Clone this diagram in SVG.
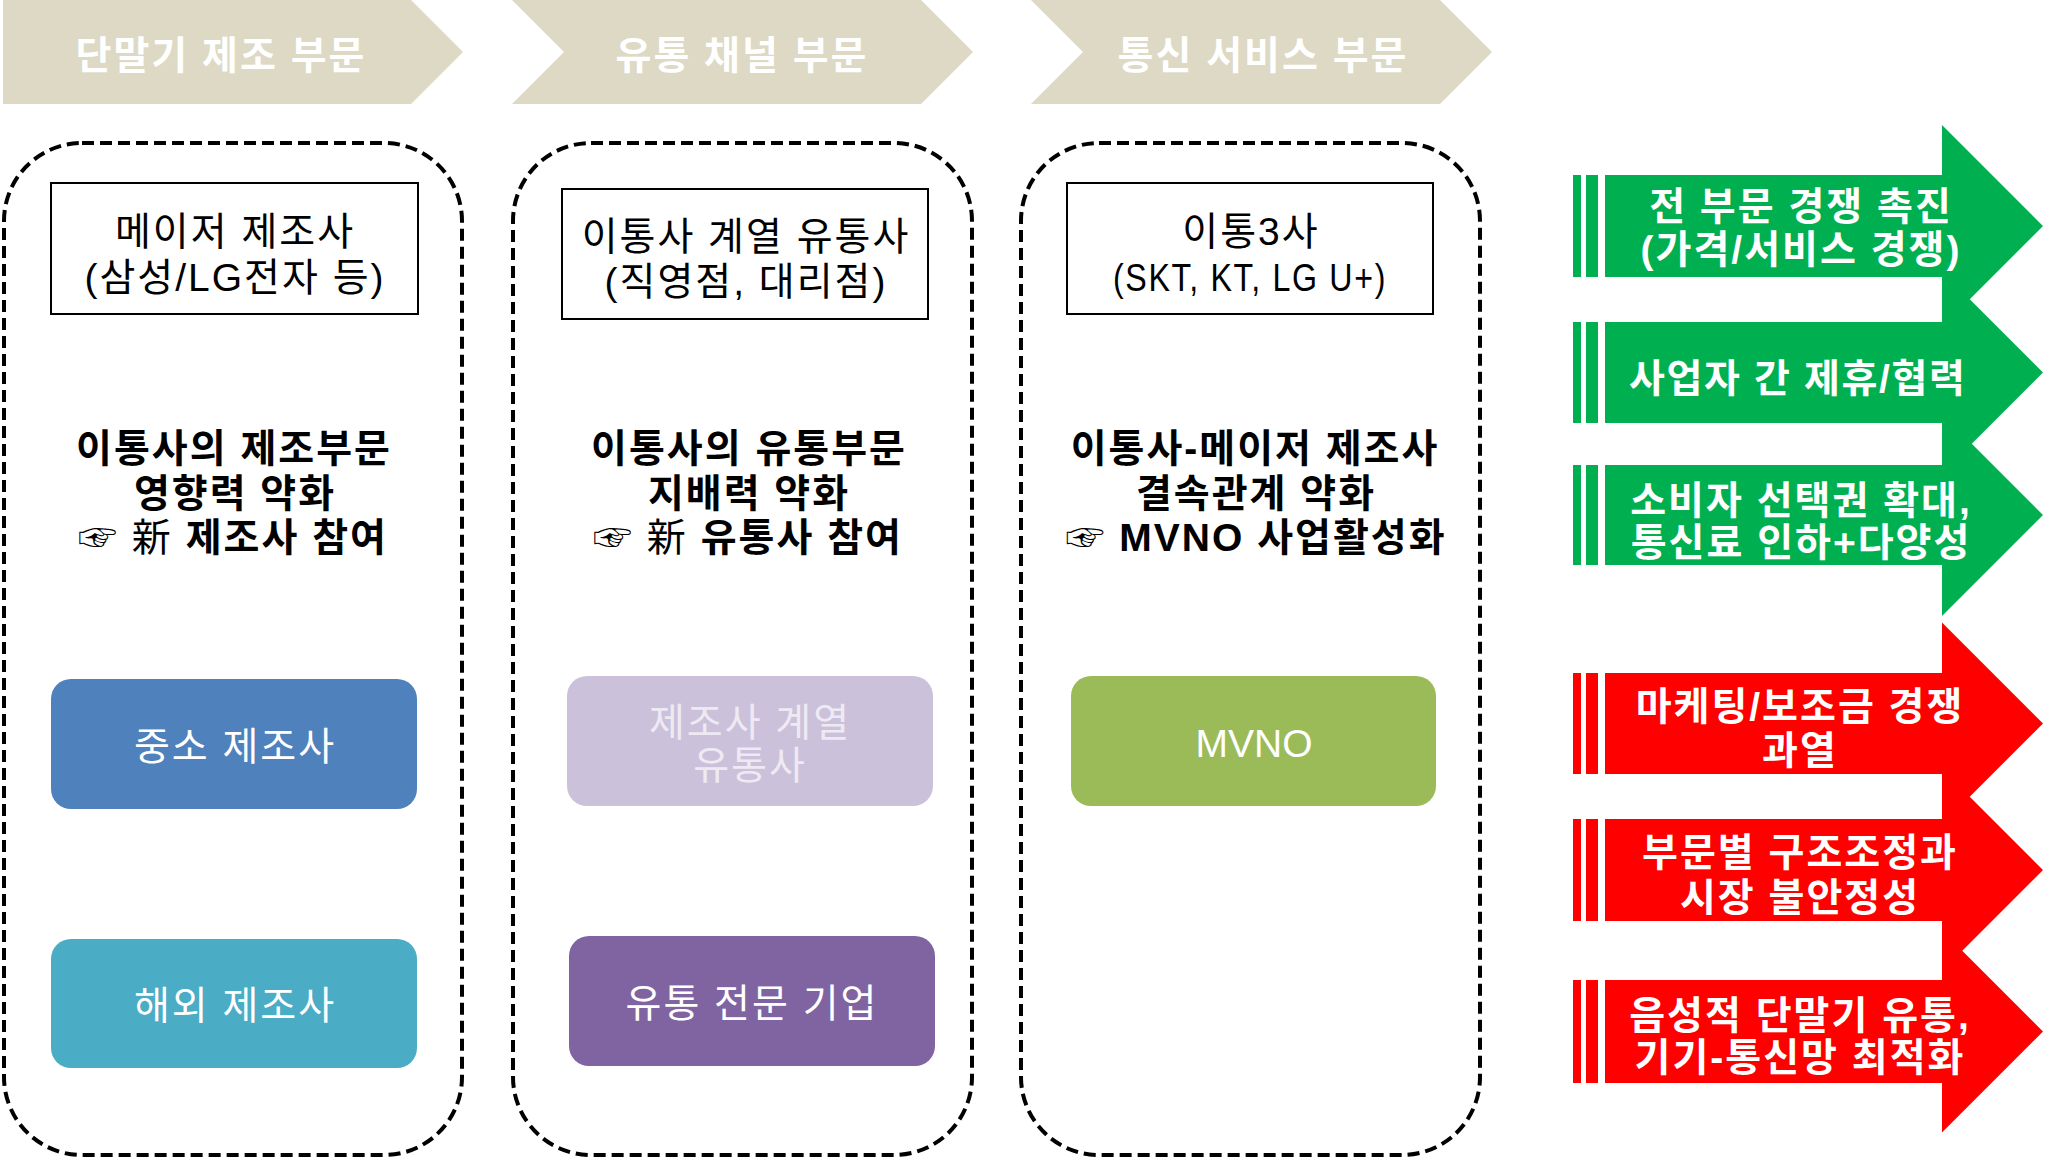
<svg xmlns="http://www.w3.org/2000/svg" width="2045" height="1159" viewBox="0 0 2045 1159">
<style>
text{font-family:'Liberation Sans','Noto Sans CJK KR',sans-serif;text-anchor:middle;letter-spacing:2px}
.hd{fill:#DDD9C4}
.hdt{fill:#FFFFFF;font-size:39px;font-weight:bold}
.col{fill:none;stroke:#000;stroke-width:4;stroke-dasharray:12 6}
.top{fill:#fff;stroke:#000;stroke-width:2}
.tt{fill:#000;font-size:39px}
.bt{fill:#000;font-size:39px;font-weight:bold}
.nr{font-weight:normal}
.cb{font-size:39px;fill:#fff}
.lt{fill:#EEEAF3}
.g{fill:#00B050}
.r{fill:#FF0000}
.at{fill:#fff;font-size:39px;font-weight:bold}
</style>
<g id="header-1"><polygon class="hd" points="3,0 411,0 463,52 411,104 3,104"/><text class="hdt" x="221" y="69">단말기 제조 부문</text></g>
<g id="header-2"><polygon class="hd" points="512,0 921,0 973,52 921,104 512,104 564,52"/><text class="hdt" x="742" y="69">유통 채널 부문</text></g>
<g id="header-3"><polygon class="hd" points="1031,0 1440,0 1492,52 1440,104 1031,104 1083,52"/><text class="hdt" x="1263" y="69">통신 서비스 부문</text></g>

<g id="column-1"><rect class="col" x="4" y="143" width="458" height="1012" rx="78" ry="78"/></g>
<g id="column-2"><rect class="col" x="513" y="143" width="459" height="1012" rx="78" ry="78"/></g>
<g id="column-3"><rect class="col" x="1021" y="143" width="459" height="1012" rx="78" ry="78"/></g>

<g id="major-maker"><rect class="top" x="51" y="183" width="367" height="131"/><text class="tt" x="235" y="245">메이저 제조사</text><text class="tt" x="235" y="291">(삼성/LG전자 등)</text></g>
<g id="carrier-retail"><rect class="top" x="562" y="189" width="366" height="130"/><text class="tt" x="746" y="250">이통사 계열 유통사</text><text class="tt" x="746" y="295">(직영점, 대리점)</text></g>
<g id="carriers"><rect class="top" x="1067" y="183" width="366" height="131"/><text class="tt" x="1251" y="245">이통3사</text><text class="tt" x="1250" y="291" textLength="274" lengthAdjust="spacingAndGlyphs">(SKT, KT, LG U+)</text></g>

<g id="note-1"><text class="bt" x="234" y="462">이통사의 제조부문</text><text class="bt" x="235" y="507">영향력 약화</text><text class="bt" x="233" y="551"><tspan class="nr">☞ 新 </tspan>제조사 참여</text></g>
<g id="note-2"><text class="bt" x="749" y="462">이통사의 유통부문</text><text class="bt" x="749" y="507">지배력 약화</text><text class="bt" x="748" y="551"><tspan class="nr">☞ 新 </tspan>유통사 참여</text></g>
<g id="note-3"><text class="bt" x="1255" y="462">이통사-메이저 제조사</text><text class="bt" x="1256" y="507">결속관계 약화</text><text class="bt" x="1256" y="551"><tspan class="nr">☞ </tspan>MVNO 사업활성화</text></g>

<g id="sme-maker"><rect x="51" y="679" width="366" height="130" rx="20" fill="#4F81BD"/><text class="cb" x="235" y="760">중소 제조사</text></g>
<g id="foreign-maker"><rect x="51" y="939" width="366" height="129" rx="20" fill="#4BACC6"/><text class="cb" x="235" y="1019">해외 제조사</text></g>
<g id="maker-retail"><rect x="567" y="676" width="366" height="130" rx="20" fill="#CCC1DA"/><text class="cb lt" x="750" y="736">제조사 계열</text><text class="cb lt" x="750" y="779">유통사</text></g>
<g id="retail-specialist"><rect x="569" y="936" width="366" height="130" rx="20" fill="#8064A2"/><text class="cb" x="752" y="1017">유통 전문 기업</text></g>
<g id="mvno"><rect x="1071" y="676" width="365" height="130" rx="20" fill="#9BBB59"/><text class="cb" x="1254" y="757" style="letter-spacing:0">MVNO</text></g>

<g id="effect-1"><rect class="g" x="1573" y="175" width="8" height="102"/><rect class="g" x="1586" y="175" width="12" height="102"/><polygon class="g" points="1605,175 1942,175 1942,125 2043,226 1942,327 1942,277 1605,277"/><text class="at" x="1801" y="220">전 부문 경쟁 촉진</text><text class="at" x="1801" y="263">(가격/서비스 경쟁)</text></g>
<g id="effect-2"><rect class="g" x="1573" y="322" width="8" height="101"/><rect class="g" x="1586" y="322" width="12" height="101"/><polygon class="g" points="1605,322 1942,322 1942,271.5 2043,372.5 1942,473.5 1942,423 1605,423"/><text class="at" x="1798" y="392" textLength="338" lengthAdjust="spacing">사업자 간 제휴/협력</text></g>
<g id="effect-3"><rect class="g" x="1573" y="465" width="8" height="100"/><rect class="g" x="1586" y="465" width="12" height="100"/><polygon class="g" points="1605,465 1942,465 1942,414 2043,515 1942,616 1942,565 1605,565"/><text class="at" x="1801" y="514">소비자 선택권 확대,</text><text class="at" x="1801" y="556">통신료 인하+다양성</text></g>
<g id="effect-4"><rect class="r" x="1573" y="673" width="8" height="101"/><rect class="r" x="1586" y="673" width="12" height="101"/><polygon class="r" points="1605,673 1942,673 1942,622.5 2043,723.5 1942,824.5 1942,774 1605,774"/><text class="at" x="1800" y="720">마케팅/보조금 경쟁</text><text class="at" x="1800" y="764">과열</text></g>
<g id="effect-5"><rect class="r" x="1573" y="819" width="8" height="102"/><rect class="r" x="1586" y="819" width="12" height="102"/><polygon class="r" points="1605,819 1942,819 1942,769 2043,870 1942,971 1942,921 1605,921"/><text class="at" x="1800" y="866">부문별 구조조정과</text><text class="at" x="1800" y="911">시장 불안정성</text></g>
<g id="effect-6"><rect class="r" x="1573" y="980" width="8" height="103"/><rect class="r" x="1586" y="980" width="12" height="103"/><polygon class="r" points="1605,980 1942,980 1942,930.5 2043,1031.5 1942,1132.5 1942,1083 1605,1083"/><text class="at" x="1800" y="1029">음성적 단말기 유통,</text><text class="at" x="1800" y="1071">기기-통신망 최적화</text></g>
<g id="connectors"/>
</svg>
